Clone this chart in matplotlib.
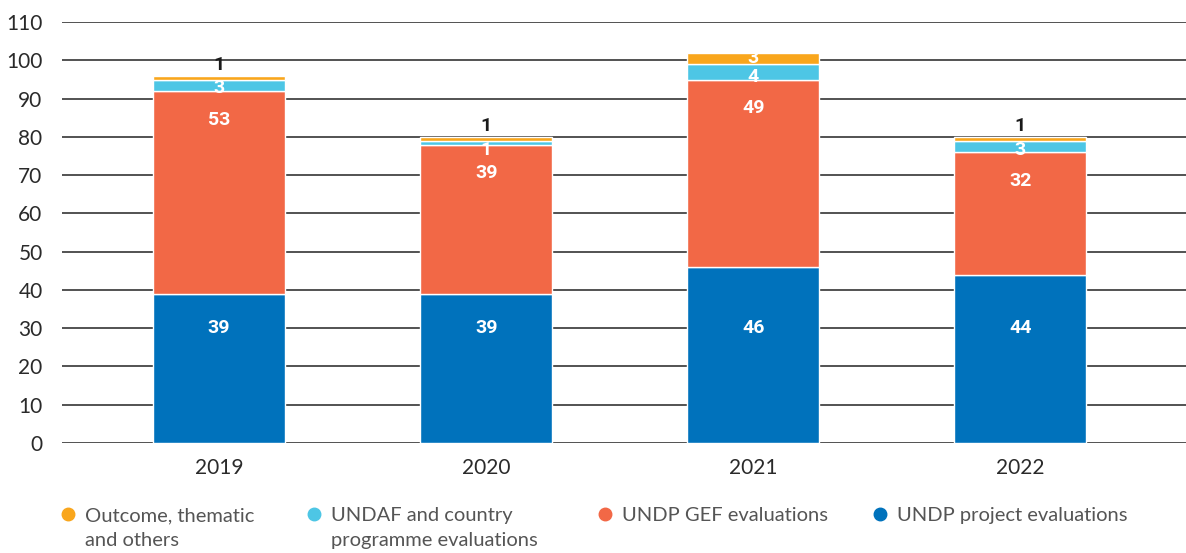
import matplotlib
matplotlib.use("Agg")
import matplotlib.pyplot as plt
from matplotlib.lines import Line2D
import numpy as np

plt.rcParams['font.family'] = ['Lato', 'DejaVu Sans']

years = ['2019', '2020', '2021', '2022']
project = [39, 39, 46, 44]
gef = [53, 39, 49, 32]
undaf = [3, 1, 4, 3]
outcome = [1, 1, 3, 1]

series_names = ['Outcome, thematic\nand others', 'UNDAF and country\nprogramme evaluations',
                'UNDP GEF evaluations', 'UNDP project evaluations']
colors = {'outcome': '#F9A61C', 'undaf': '#4DC6E5', 'gef': '#F26846', 'project': '#0072BC'}

fig = plt.figure(figsize=(11.86, 5.53), dpi=100)
ax = fig.add_axes([0.0523, 0.199, 0.9477, 0.761])

x = np.arange(len(years))
w = 0.494
project_a = np.array(project)
gef_a = np.array(gef)
undaf_a = np.array(undaf)
outcome_a = np.array(outcome)

ax.bar(x, project_a, w, color=colors['project'], edgecolor='white', linewidth=1, zorder=3)
ax.bar(x, gef_a, w, bottom=project_a, color=colors['gef'], edgecolor='white', linewidth=1, zorder=3)
b2 = project_a + gef_a
ax.bar(x, undaf_a, w, bottom=b2, color=colors['undaf'], edgecolor='white', linewidth=1, zorder=3)
b3 = b2 + undaf_a
ax.bar(x, outcome_a, w, bottom=b3, color=colors['outcome'], edgecolor='white', linewidth=1, zorder=3)
tops = b3 + outcome_a

lab = dict(fontsize=14, fontweight='bold', ha='center', va='center', zorder=5,
           family=['Roboto', 'DejaVu Sans'])
for i in range(len(years)):
    ax.text(x[i], 30, str(project[i]), color='white', **lab)
    ax.text(x[i], b2[i] - 7.5, str(gef[i]), color='white', **lab)
    # a thin cyan slice gets its number just under it, in the red part
    y_undaf = b2[i] + 0.7 if undaf[i] > 1 else b2[i] - 1.3
    ax.text(x[i], y_undaf, str(undaf[i]), color='white', **lab)
    if outcome[i] > 1:
        ax.text(x[i], b3[i] + 1.7, str(outcome[i]), color='white', **lab)
    else:
        ax.text(x[i], tops[i] + 2.9, str(outcome[i]), color='#1a1a1a', **lab)

ax.set_xlim(-0.588, 3.62)
ax.set_ylim(0, 110)
ax.set_yticks(range(0, 111, 10))
ax.set_xticks(x)
ax.set_xticklabels(years)
ax.grid(axis='y', color='#444444', linewidth=1.3, zorder=0)
for s in ax.spines.values():
    s.set_visible(False)
ax.tick_params(axis='both', length=0, labelsize=15, labelcolor='#2a2a2a')
ax.tick_params(axis='y', pad=14)
ax.tick_params(axis='x', pad=11)

# legend drawn by hand so that each entry sits at its own spot
leg_x = [0.0573, 0.2647, 0.5101, 0.7420]
leg_cols = [colors['outcome'], colors['undaf'], colors['gef'], colors['project']]
for lx, c, name in zip(leg_x, leg_cols, series_names):
    fig.add_artist(Line2D([lx], [0.0705], marker='o', markersize=9, color=c,
                          linestyle='none', transform=fig.transFigure))
    fig.text(lx + 0.0145, 0.083, name, fontsize=14.5, color='#555555',
             ha='left', va='top', linespacing=1.55)

fig.savefig('out.png', dpi=100)
